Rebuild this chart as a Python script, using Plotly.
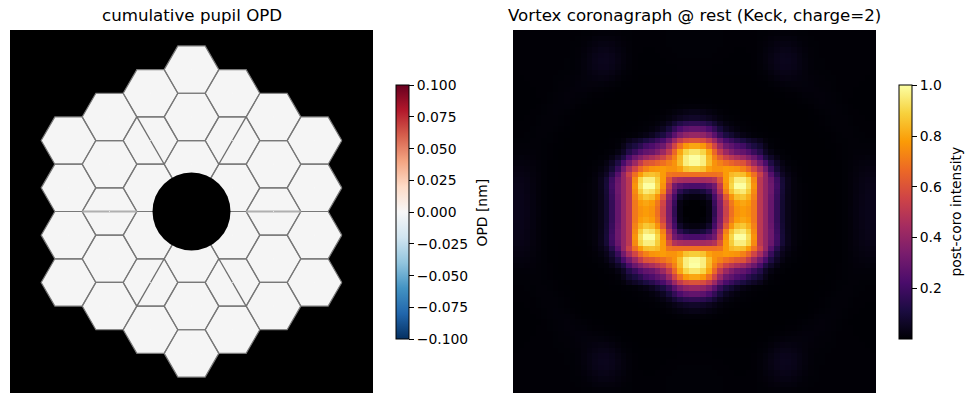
import plotly.graph_objects as go

W, H = 972, 403
FONT = "DejaVu Sans"

# Keck primary: segment columns and half-row offsets
SEG_COL = [-3]*4 + [-2]*5 + [-1]*6 + [0]*6 + [1]*6 + [2]*5 + [3]*4
SEG_HALF_ROW = [-3, -1, 1, 3,
                -4, -2, 0, 2, 4,
                -5, -3, -1, 1, 3, 5,
                -6, -4, -2, 2, 4, 6,
                -5, -3, -1, 1, 3, 5,
                -4, -2, 0, 2, 4,
                -3, -1, 1, 3]
SEG_OPD = [0.0] * 36
HEX_R = 27.3
COL_PITCH = 41.0
HALF_ROW_PITCH = 23.65
PANEL_HALF = 181.5
HOLE_R = 39.0

# Spider segments crossing segment interiors (x0, y0, x1, y1)
DIAG_SPIDERS = [(-54.6, 94.6, -27.3, 47.3), (54.6, 94.6, 27.3, 47.3),
                (-54.6, -94.6, -27.3, -47.3), (54.6, -94.6, 27.3, -47.3)]
HORIZ_SPIDERS = [(-109.3, 0, -54.6, 0), (54.6, 0, 109.3, 0)]

# Upper-left quadrant of the post-coronagraph image, intensity x 1000
Q = [
 [4,4,4,4,4,4,4,4,4,4,4,4,5,6,8,10,10,10,8,6,5,4,3,3,3,4,4,5,5,6,6,6],
 [4,4,4,4,4,4,4,4,4,4,4,5,7,10,14,16,16,15,12,8,6,4,3,3,3,4,4,5,5,6,6,6],
 [4,4,4,4,4,4,4,4,4,4,5,6,9,14,20,25,26,23,16,11,7,4,3,3,3,3,4,5,5,6,6,6],
 [3,3,4,4,4,4,4,4,4,4,5,7,12,20,28,34,35,30,22,14,8,4,3,2,2,3,4,4,5,5,5,5],
 [3,3,3,4,4,4,4,4,4,4,5,8,14,24,34,40,42,36,26,16,9,4,2,2,2,2,3,4,4,5,5,5],
 [3,3,3,3,4,4,4,4,4,5,6,9,16,26,36,43,44,38,27,17,9,4,2,2,1,2,2,3,3,4,4,4],
 [3,3,3,3,3,4,4,4,4,5,6,10,16,25,34,40,41,34,24,14,7,3,1,1,1,1,2,2,2,3,3,3],
 [2,3,3,3,3,3,4,4,5,6,7,10,15,22,28,33,33,27,18,10,5,2,1,1,1,1,1,1,1,2,2,2],
 [2,2,3,3,3,3,4,5,6,7,9,11,15,18,22,24,23,18,11,6,3,1,0,0,0,0,0,0,0,1,1,1],
 [2,2,2,3,3,3,4,5,7,8,10,12,14,15,15,14,12,9,5,2,1,0,0,0,0,0,0,0,0,0,0,0],
 [2,2,2,2,3,3,4,6,8,10,11,12,12,11,9,7,5,3,2,1,0,0,0,0,0,0,0,0,0,0,0,0],
 [2,2,2,2,3,3,5,7,9,11,11,10,9,6,4,3,2,1,0,0,0,0,0,0,0,0,0,0,0,0,0,0],
 [2,2,2,2,2,4,6,8,10,11,10,8,5,3,1,1,0,0,0,0,0,0,0,0,0,0,0,0,0,1,1,1],
 [2,2,2,2,3,5,7,9,10,9,7,4,2,1,0,0,0,0,0,0,0,0,0,0,0,0,1,2,4,6,8,9],
 [2,2,2,3,4,6,8,9,8,6,3,1,0,0,0,0,0,0,0,0,0,0,0,0,1,2,4,8,14,22,30,34],
 [2,2,3,3,5,7,8,8,6,4,2,1,0,0,0,0,0,0,0,0,0,0,1,2,3,5,10,18,32,48,60,68],
 [3,3,3,4,6,8,8,7,5,3,1,0,0,0,0,0,0,0,0,0,1,2,3,5,8,14,26,50,85,125,150,160],
 [3,3,4,5,7,8,7,5,3,2,1,0,0,0,0,0,0,0,0,1,2,3,6,10,18,32,55,100,165,225,265,280],
 [4,4,5,6,7,7,6,4,2,1,0,0,0,0,0,0,0,1,2,4,6,10,18,30,50,80,110,170,260,340,390,410],
 [5,5,6,7,7,6,5,3,1,0,0,0,0,0,0,0,1,3,5,15,40,60,80,110,140,180,220,300,420,520,580,600],
 [7,7,8,8,7,6,4,2,1,0,0,0,0,0,0,1,2,4,10,35,80,110,150,200,230,270,310,420,560,680,770,800],
 [9,10,10,9,8,5,3,2,0,0,0,0,0,0,1,2,5,10,25,60,130,180,240,280,300,350,420,520,660,800,900,940],
 [13,14,13,11,8,5,3,1,0,0,0,0,0,1,2,5,10,30,65,120,220,300,360,420,460,500,550,630,720,840,960,1000],
 [18,18,16,13,9,5,2,1,0,0,0,0,1,2,5,10,25,60,120,220,320,420,520,600,620,650,680,720,760,850,960,990],
 [23,23,20,15,10,5,2,1,0,0,0,0,1,3,8,18,40,90,180,320,450,560,660,720,760,770,780,760,760,790,860,880],
 [28,28,24,17,11,5,2,1,0,0,0,0,1,4,12,30,60,140,250,400,540,680,780,850,860,840,780,690,680,680,680,680],
 [33,32,27,19,11,5,2,1,0,0,0,1,2,6,15,40,90,190,300,400,500,740,900,960,960,880,780,600,480,450,440,440],
 [36,35,29,20,11,5,2,0,0,0,0,1,3,7,15,40,95,200,310,400,500,760,920,1000,1000,900,760,520,320,260,230,220],
 [38,37,30,20,11,5,2,0,0,0,0,1,3,7,15,38,90,190,310,400,500,740,880,950,930,860,720,470,280,150,100,80],
 [39,38,31,21,11,5,2,0,0,0,0,1,3,7,15,35,85,180,300,400,500,720,820,870,850,760,620,380,210,70,30,20],
 [40,39,31,21,11,5,2,0,0,0,0,1,3,7,15,35,80,170,290,400,500,700,780,800,780,700,560,350,180,30,5,0],
 [40,39,32,21,12,5,2,0,0,0,0,1,3,7,15,35,80,170,290,400,500,700,760,780,760,680,540,340,160,25,0,0],
]

RDBU_R = [[0.0, "#053061"], [0.1, "#2166ac"], [0.2, "#4393c3"], [0.3, "#92c5de"],
          [0.4, "#d1e5f0"], [0.5, "#f7f7f7"], [0.6, "#fddbc7"], [0.7, "#f4a582"],
          [0.8, "#d6604d"], [0.9, "#b2182b"], [1.0, "#67001f"]]
OPD_TICKS = [-0.1, -0.075, -0.05, -0.025, 0.0, 0.025, 0.05, 0.075, 0.1]
INT_TICKS = [0.2, 0.4, 0.6, 0.8, 1.0]

# Hexagon corners in the order a closed outline needs them
CORNER_X = [1.0, 0.5, -0.5, -1.0, -0.5, 0.5, 1.0]
CORNER_Y = [0.0, 0.866, 0.866, 0.0, -0.866, -0.866, 0.0]

seg_x = [c * COL_PITCH for c in SEG_COL]
seg_y = [r * HALF_ROW_PITCH for r in SEG_HALF_ROW]
hex_x, hex_y = [], []
for cx, cy in zip(seg_x, seg_y):
    hex_x += [cx + HEX_R * a for a in CORNER_X] + [None]
    hex_y += [cy + HEX_R * b for b in CORNER_Y] + [None]

full = []
for row in Q + Q[::-1]:
    full.append([v / 1000 for v in row + row[::-1]])


def segs(items):
    xs, ys = [], []
    for x0, y0, x1, y1 in items:
        xs += [x0, x1, None]
        ys += [y0, y1, None]
    return xs, ys


def cbar(x, ticks, fmt):
    return dict(
        x=x / W, xanchor="left", xpad=0,
        y=1 - 212.2 / H, yanchor="middle", ypad=0,
        lenmode="pixels", len=254.4,
        thicknessmode="pixels", thickness=13,
        outlinecolor="black", outlinewidth=1,
        ticks="outside", ticklen=5, tickwidth=1, tickcolor="black",
        tickmode="array", tickvals=ticks, tickformat=fmt,
        tickfont=dict(family=FONT, size=13.9, color="black"),
    )


fig = go.Figure()

fig.add_trace(go.Scatter(
    x=hex_x, y=hex_y, mode="lines", fill="toself", fillcolor="#f5f5f5",
    line=dict(color="#787878", width=1.2), hoverinfo="skip", showlegend=False,
    xaxis="x", yaxis="y"))
dx, dy = segs(DIAG_SPIDERS)
fig.add_trace(go.Scatter(x=dx, y=dy, mode="lines", line=dict(color="#6e6e6e", width=1.3),
                         hoverinfo="skip", showlegend=False, xaxis="x", yaxis="y"))
hx, hy = segs(HORIZ_SPIDERS)
fig.add_trace(go.Scatter(x=hx, y=hy, mode="lines", line=dict(color="#b0b0b0", width=2),
                         hoverinfo="skip", showlegend=False, xaxis="x", yaxis="y"))
# Per-segment OPD, which also carries the diverging colour bar
fig.add_trace(go.Scatter(
    x=seg_x, y=seg_y, mode="markers", showlegend=False, xaxis="x", yaxis="y",
    marker=dict(size=1, color=SEG_OPD, colorscale=RDBU_R, cmin=-0.1, cmax=0.1,
                line=dict(width=0), showscale=True,
                colorbar=cbar(396.3, OPD_TICKS, ".3f"))))

fig.add_trace(go.Heatmap(
    z=full, colorscale="Inferno", zmin=0.0, zmax=1.0, xaxis="x2", yaxis="y2",
    colorbar=cbar(898.5, INT_TICKS, ".1f")))

titles = [
    dict(text=t, x=x / W, y=1 - 15.5 / H, xref="paper", yref="paper",
         xanchor="center", yanchor="middle", showarrow=False,
         font=dict(family=FONT, size=16.67, color="black"))
    for t, x in [("cumulative pupil OPD", 191.5),
                 ("Vortex coronagraph @ rest (Keck, charge=2)", 694.5)]
]
bar_labels = [
    dict(text=t, x=x / W, y=1 - yc / H, xref="paper", yref="paper",
         xanchor="center", yanchor="middle", showarrow=False, textangle=-90,
         font=dict(family=FONT, size=13.9, color="black"))
    for t, x, yc in [("OPD [nm]", 481, 212.5), ("post-coro intensity", 955.5, 212)]
]

ydom = [1 - 393 / H, 1 - 30 / H]
fig.update_layout(
    width=W, height=H, margin=dict(l=0, r=0, t=0, b=0, autoexpand=False),
    paper_bgcolor="white", plot_bgcolor="black",
    xaxis=dict(domain=[10 / W, 373 / W], range=[-PANEL_HALF, PANEL_HALF], visible=False),
    yaxis=dict(domain=ydom, range=[-PANEL_HALF, PANEL_HALF], visible=False),
    xaxis2=dict(domain=[513 / W, 876 / W], range=[-0.5, 63.5], visible=False),
    yaxis2=dict(domain=ydom, range=[-0.5, 63.5], autorange=False, visible=False),
    shapes=[dict(type="circle", xref="x", yref="y", x0=-HOLE_R, x1=HOLE_R,
                 y0=-HOLE_R, y1=HOLE_R, fillcolor="black", line=dict(width=0))],
    annotations=titles + bar_labels,
)

fig.write_html("out.html")
